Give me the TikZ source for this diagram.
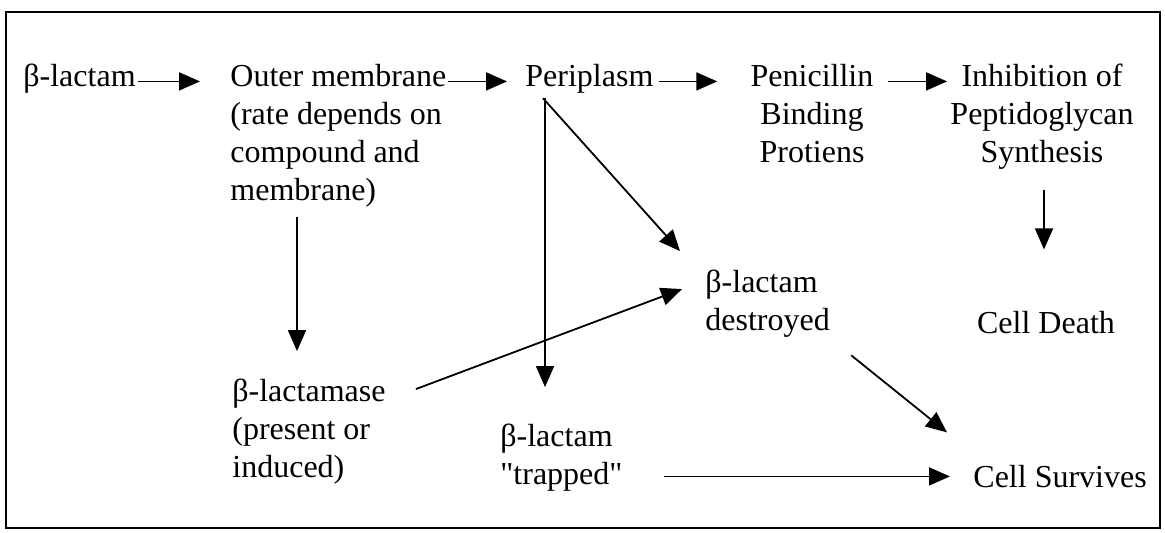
\documentclass[tikz,border=0pt]{standalone}
\usepackage{fontspec}
\setmainfont{Liberation Serif}
\usetikzlibrary{arrows.meta, calc}

\begin{document}
\begin{tikzpicture}[x=0.5pt, y=-0.5pt,
    lbl/.style={font=\fontsize{16pt}{19pt}\selectfont, inner sep=0pt},
    arr/.style={line width=0.9pt, -{Triangle[length=10.5pt, width=9pt]}}]
    % Frame
    \useasboundingbox (0,0) rectangle (1165,532);
    \draw[line width=0.9pt] (6,12) rectangle (1160,528);

    % Top row (base = baseline of the last line)
    \node[lbl, anchor=base west] (lac) at (23,86) {β-lactam};
    \node[lbl, anchor=base west, align=left] (outer) at (230,200) {Outer membrane\\(rate depends on\\compound and\\membrane)};
    \node[lbl, anchor=base west] (peri) at (525,86) {Periplasm};
    \node[lbl, anchor=base, align=center] (pbp) at (812,162) {Penicillin\\Binding\\Protiens};
    \node[lbl, anchor=base, align=center] (inhib) at (1042,162) {Inhibition of\\Peptidoglycan\\Synthesis};

    % Middle
    \node[lbl, anchor=base west, align=left] (destroyed) at (705,330) {β-lactam\\destroyed};
    \node[lbl, anchor=base] (death) at (1046,333) {Cell Death};

    % Bottom
    \node[lbl, anchor=base west, align=left] (lactamase) at (232,477) {β-lactamase\\(present or\\induced)};
    \node[lbl, anchor=base west, align=left] (trapped) at (500,484) {β-lactam\\\textquotedbl trapped\textquotedbl};
    \node[lbl, anchor=base west] (survives) at (973,487) {Cell Survives};

    % Top row arrows
    \draw[arr] ($(lac.mid east)+(2,0)$) -- ($(outer.west |- lac.mid east)+(-30,0)$);
    \draw[arr] ($(outer.east |- lac.mid east)+(1,0)$) -- ($(peri.mid west)+(-18,0)$);
    \draw[arr] ($(peri.mid east)+(5,0)$) -- ($(pbp.west |- peri.mid east)+(-33,0)$);
    \draw[arr] ($(pbp.east |- peri.mid east)+(14,0)$) -- ($(inhib.west |- peri.mid east)+(-3,0)$);

    % Downward arrows
    \coordinate (ov) at ($(outer.south west)+(67,10)$);
    \draw[arr] (ov) -- ($(ov |- lactamase.north)+(0,-27)$);
    \coordinate (pv) at ($(peri.south west)+(20,5)$);
    \draw[arr] (pv) -- ($(pv |- trapped.north)+(0,-36)$);
    \draw[arr] ($(inhib.south)+(2,21)$) -- ($(inhib.south |- death.north)+(2,-61)$);

    % Diagonal arrows
    \draw[arr] ($(peri.south west)+(18,5)$) -- ($(destroyed.north west)+(-25,-18)$);
    \draw[arr] ($(lactamase.north east)+(30,11)$) -- ($(destroyed.north west)+(-23,20)$);
    \draw[arr] ($(destroyed.south east)+(21,18)$) -- ($(survives.north west)+(-26,-32)$);
    \draw[arr] ($(trapped.east |- survives.mid west)+(41,-6)$) -- ($(survives.mid west)+(-23,-6)$);
\end{tikzpicture}
\end{document}
